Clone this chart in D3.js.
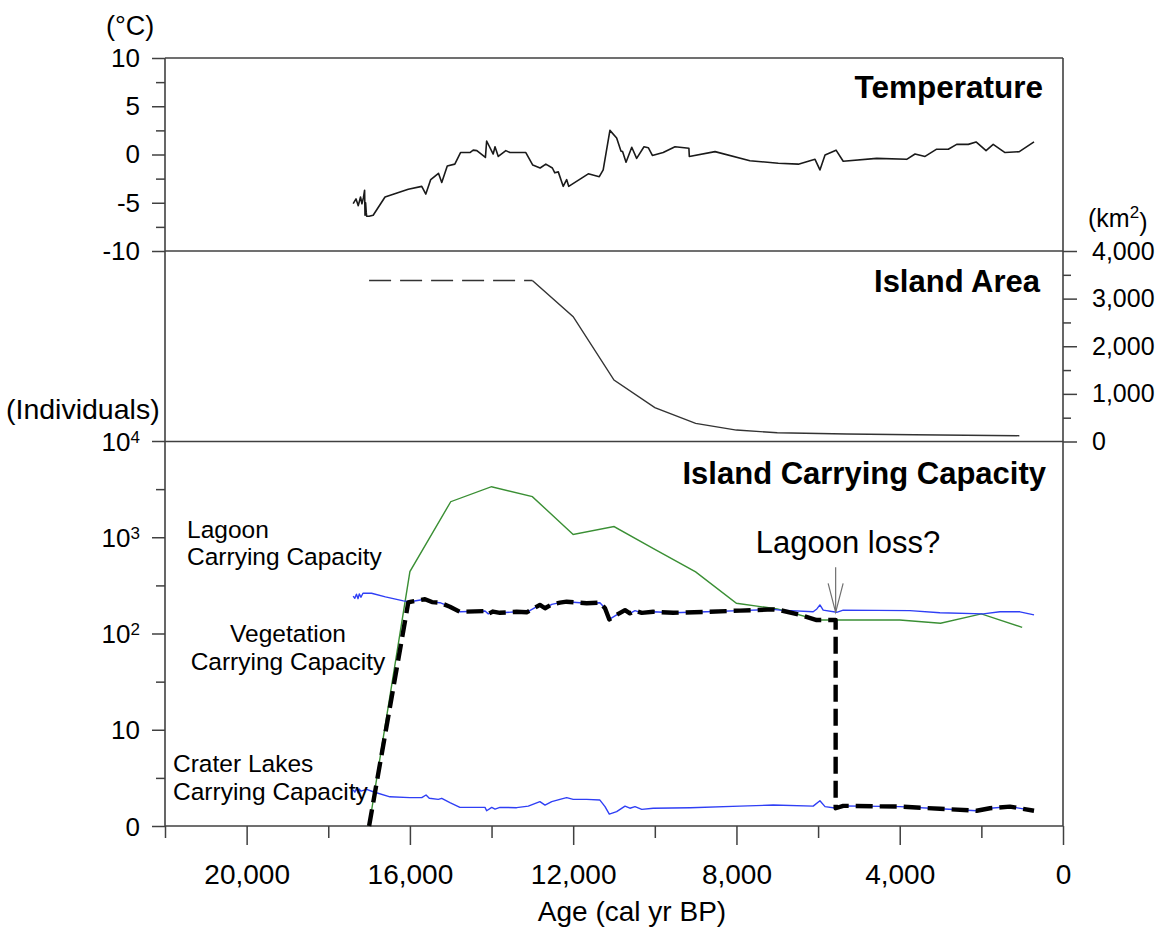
<!DOCTYPE html>
<meta charset="utf-8">
<body style="margin:0;background:white">
  <div id="content"></div>
</body>
<script src="https://cdn.jsdelivr.net/npm/d3@7"></script>
<script>
// axis ticks
var ageTicks = [20000, 16000, 12000, 8000, 4000, 0];
var ageMinorTicks = [22000, 18000, 14000, 10000, 6000, 2000];
var tempTicks = [-10, -5, 0, 5, 10];
var tempMinorTicks = [-7.5, -2.5, 2.5, 7.5];
var areaTicks = [0, 1000, 2000, 3000, 4000];
var areaMinorTicks = [500, 1500, 2500, 3500];
var capTicks = [1, 10, 100, 1000, 10000];
var capTickLabels = [["0", ""], ["10", ""], ["10", "2"], ["10", "3"], ["10", "4"]];
var capMinorTicks = [3.16, 31.6, 316, 3162];

// series: [age (cal yr BP), value]
var temperature = [[17390,-5.1],[17320,-4.6],[17265,-5.3],[17210,-4.4],[17175,-5.1],[17140,-4.5],[17110,-3.7],[17100,-6.3],[17085,-5.0],[17070,-6.0],[17060,-6.4],[17000,-6.4],[16900,-6.3],[16610,-4.4],[16040,-3.6],[15710,-3.3],[15610,-4.1],[15490,-2.6],[15300,-1.95],[15220,-2.9],[15085,-1.2],[14900,-1.0],[14760,0.2],[14530,0.2],[14450,0.45],[14360,0.4],[14150,-0.3],[14120,1.4],[13960,0.05],[13915,0.8],[13835,-0.2],[13650,0.4],[13550,0.2],[13160,0.2],[12990,-1.1],[12810,-1.4],[12670,-1.0],[12510,-1.4],[12450,-1.9],[12365,-1.8],[12245,-3.3],[12160,-2.6],[12110,-3.3],[11630,-2.0],[11360,-2.3],[11265,-1.6],[11100,2.5],[10935,1.7],[10830,0.35],[10790,0.3],[10705,-0.8],[10565,0.75],[10445,-0.4],[10265,0.8],[10160,0.7],[10060,-0.1],[9795,0.2],[9505,0.8],[9165,0.65],[9155,-0.2],[8525,0.3],[7670,-0.65],[6975,-0.9],[6485,-1.0],[6075,-0.5],[5955,-1.6],[5830,-0.05],[5560,0.45],[5385,-0.7],[4565,-0.4],[3830,-0.5],[3625,0.05],[3380,-0.2],[3095,0.55],[2810,0.55],[2605,1.05],[2320,1.05],[2130,1.3],[1885,0.4],[1710,1.05],[1420,0.2],[1070,0.3],[710,1.3]];

var areaAssumed = [[17000,3380],[13000,3380]];
var area = [[13000,3380],[12000,2620],[11000,1290],[10000,710],[9000,380],[8000,240],[7000,185],[5300,157],[3650,143],[1070,122]];

var vegetation = [[17000,1],[16000,440],[15000,2340],[14000,3350],[13000,2640],[12000,1070],[11000,1290],[10000,750],[9000,436],[8000,206],[7000,180],[6000,138],[5000,138],[4000,138],[3000,128],[2000,160],[1000,116]];

var lagoon = [[17390,245],[17350,232],[17310,256],[17270,230],[17240,258],[17200,238],[17150,262],[16940,262],[16600,240],[16160,218],[16000,214],[15630,227],[15460,212],[15265,209],[15020,190],[14775,168],[14160,171],[14080,160],[13965,169],[13795,164],[13385,168],[13140,166],[12815,198],[12690,183],[12525,201],[12325,209],[12160,214],[11670,206],[11345,209],[11220,183],[11115,140],[10935,156],[10730,175],[10610,162],[10485,173],[10320,164],[10040,168],[9550,164],[8730,168],[7915,173],[7100,178],[6935,175],[6120,168],[6030,180],[5955,198],[5875,175],[5545,166],[5385,175],[3750,173],[3015,164],[1955,160],[1545,168],[1055,168],[710,156]];

var craterLakes = [[17390,2.37],[17350,2.25],[17310,2.45],[17270,2.2],[17240,2.42],[17200,2.3],[17060,2.40],[16900,2.27],[16490,2.01],[16000,1.97],[15710,1.97],[15605,2.10],[15525,1.94],[15305,1.89],[15220,1.94],[15020,1.75],[14775,1.56],[14160,1.56],[14120,1.44],[13995,1.56],[13915,1.50],[13795,1.56],[13385,1.55],[13100,1.61],[12815,1.79],[12690,1.65],[12525,1.79],[12325,1.89],[12160,1.97],[12000,1.89],[11670,1.89],[11345,1.86],[11220,1.59],[11115,1.33],[10935,1.41],[10730,1.61],[10610,1.53],[10485,1.59],[10320,1.49],[10040,1.53],[9130,1.55],[7915,1.61],[7100,1.65],[6120,1.61],[5955,1.83],[5830,1.59],[5545,1.53],[5385,1.62],[3995,1.59],[3015,1.51],[2115,1.44],[1790,1.53],[1300,1.59],[710,1.44]];

var total = [[17000,1],[16040,210],[15960,214],[15630,227],[15460,212],[15265,209],[15020,190],[14775,168],[14160,171],[14080,160],[13965,169],[13795,164],[13385,168],[13140,166],[12815,198],[12690,183],[12525,201],[12325,209],[12160,214],[11670,206],[11345,209],[11220,183],[11115,140],[10935,156],[10730,175],[10610,162],[10485,173],[10320,164],[10040,168],[9550,164],[8730,168],[7915,173],[7100,178],[6935,175],[6445,156],[6035,138],[5570,138],[5570,1.53],[5385,1.62],[3995,1.59],[3015,1.51],[2115,1.44],[1790,1.53],[1300,1.59],[710,1.44]];

var lagoonLossAge = 5570;

// layout
var W = 1159, H = 931;
var left = 165, right = 1063;
var font = '"Liberation Sans", Arial, sans-serif';
var axisColor = '#404040';

var x = d3.scaleLinear().domain([22000, 0]).range([left, right]);
var yTemp = d3.scaleLinear().domain([-10, 10]).range([251, 58]);
var yArea = d3.scaleLinear().domain([0, 4000]).range([441.5, 251]);
var yCap = d3.scaleLog().domain([1, 10000]).range([826, 441]);

var svg = d3.select('#content').append('svg')
    .attr('width', W).attr('height', H)
    .style('background', 'white')
    .style('font-family', font);

function styleAxis(g) {
    g.select('.domain').remove();
    g.selectAll('.tick line').attr('stroke', axisColor).attr('stroke-width', 1.5);
    g.selectAll('.tick text').attr('fill', 'black').attr('font-family', font);
}

// frame
var frame = svg.append('g').attr('stroke', axisColor).attr('stroke-width', 1.6);
frame.append('line').attr('x1', left).attr('x2', right).attr('y1', yTemp(10)).attr('y2', yTemp(10));
frame.append('line').attr('x1', left).attr('x2', right).attr('y1', yTemp(-10)).attr('y2', yTemp(-10));
frame.append('line').attr('x1', left).attr('x2', right).attr('y1', yArea(0)).attr('y2', yArea(0));
frame.append('line').attr('x1', left).attr('x2', right).attr('y1', yCap(1)).attr('y2', yCap(1));
frame.append('line').attr('x1', left).attr('x2', left).attr('y1', yTemp(10)).attr('y2', yCap(1));
frame.append('line').attr('x1', right).attr('x2', right).attr('y1', yTemp(10)).attr('y2', yCap(1));

// temperature axis
svg.append('g').attr('transform', 'translate(' + left + ',0)')
    .call(d3.axisLeft(yTemp).tickValues(tempTicks).tickSize(13).tickPadding(12)
        .tickFormat(function (d) { return String(d); }))
    .call(styleAxis)
    .selectAll('.tick text').attr('font-size', 26);
svg.append('g').attr('transform', 'translate(' + left + ',0)')
    .call(d3.axisLeft(yTemp).tickValues(tempMinorTicks).tickSize(9).tickFormat(''))
    .call(styleAxis);

// island area axis (right)
svg.append('g').attr('transform', 'translate(' + right + ',0)')
    .call(d3.axisRight(yArea).tickValues(areaTicks).tickSize(14).tickPadding(15).tickFormat(d3.format(',')))
    .call(styleAxis)
    .selectAll('.tick text').attr('font-size', 25);
svg.append('g').attr('transform', 'translate(' + right + ',0)')
    .call(d3.axisRight(yArea).tickValues(areaMinorTicks).tickSize(8).tickFormat(''))
    .call(styleAxis);

// carrying capacity axis (log)
var capAxis = svg.append('g').attr('transform', 'translate(' + left + ',0)')
    .call(d3.axisLeft(yCap).tickValues(capTicks).tickSize(13).tickFormat(''))
    .call(styleAxis);
capAxis.selectAll('.tick').each(function (d, i) {
    var lab = capTickLabels[i];
    var t = d3.select(this).append('text')
        .attr('x', -25).attr('dy', '0.35em')
        .attr('text-anchor', 'end').attr('fill', 'black')
        .attr('font-family', font).attr('font-size', 26);
    t.append('tspan').text(lab[0]);
    if (lab[1]) {
        t.append('tspan').attr('dy', '-0.45em').attr('font-size', 17).text(lab[1]);
    }
});
svg.append('g').attr('transform', 'translate(' + left + ',0)')
    .call(d3.axisLeft(yCap).tickValues(capMinorTicks).tickSize(9).tickFormat(''))
    .call(styleAxis);

// age axis
svg.append('g').attr('transform', 'translate(0,' + yCap(1) + ')')
    .call(d3.axisBottom(x).tickValues(ageTicks).tickSize(19).tickPadding(19).tickFormat(d3.format(',')))
    .call(styleAxis)
    .selectAll('.tick text').attr('font-size', 28);
svg.append('g').attr('transform', 'translate(0,' + yCap(1) + ')')
    .call(d3.axisBottom(x).tickValues(ageMinorTicks).tickSize(12).tickFormat(''))
    .call(styleAxis);

// series
var lineTemp = d3.line().x(function (d) { return x(d[0]); }).y(function (d) { return yTemp(d[1]); });
var lineArea = d3.line().x(function (d) { return x(d[0]); }).y(function (d) { return yArea(d[1]); });
var lineCap = d3.line().x(function (d) { return x(d[0]); }).y(function (d) { return yCap(d[1]); });

svg.append('path').datum(temperature).attr('d', lineTemp)
    .attr('fill', 'none').attr('stroke', '#1a1a1a').attr('stroke-width', 1.6).attr('stroke-linejoin', 'round');

svg.append('path').datum(areaAssumed).attr('d', lineArea)
    .attr('fill', 'none').attr('stroke', '#333').attr('stroke-width', 1.5).attr('stroke-dasharray', '22,9');
svg.append('path').datum(area).attr('d', lineArea)
    .attr('fill', 'none').attr('stroke', '#333').attr('stroke-width', 1.4);

svg.append('path').datum(vegetation).attr('d', lineCap)
    .attr('fill', 'none').attr('stroke', '#3a8f34').attr('stroke-width', 1.4);
svg.append('path').datum(lagoon).attr('d', lineCap)
    .attr('fill', 'none').attr('stroke', '#2f3ff5').attr('stroke-width', 1.4).attr('stroke-linejoin', 'round');
svg.append('path').datum(craterLakes).attr('d', lineCap)
    .attr('fill', 'none').attr('stroke', '#2f3ff5').attr('stroke-width', 1.4).attr('stroke-linejoin', 'round');
svg.append('path').datum(total).attr('d', lineCap)
    .attr('fill', 'none').attr('stroke', 'black').attr('stroke-width', 4.4)
    .attr('stroke-dasharray', '17,7').attr('stroke-linejoin', 'round');

// lagoon loss arrow
var ax = x(lagoonLossAge), ay = yCap(166);
var arrow = svg.append('g').attr('stroke', '#707070').attr('stroke-width', 1.2).attr('fill', 'none');
arrow.append('line').attr('x1', ax).attr('x2', ax).attr('y1', ay - 45).attr('y2', ay);
arrow.append('path').attr('d', 'M' + (ax - 7.5) + ',' + (ay - 29) + 'L' + ax + ',' + ay + 'L' + (ax + 7.5) + ',' + (ay - 29));

// texts
function txt(s, px, py, size, anchor, weight) {
    return svg.append('text').attr('x', px).attr('y', py)
        .attr('font-size', size).attr('text-anchor', anchor || 'start')
        .attr('font-weight', weight || 'normal').attr('fill', 'black').text(s);
}
txt('Temperature', 1043, 98, 31.5, 'end', 'bold');
txt('Island Area', 1040, 292, 31, 'end', 'bold');
txt('Island Carrying Capacity', 1046, 484, 31, 'end', 'bold');

txt('(°C)', 106, 35, 27);
var km = txt('(km', 1088, 227, 25);
km.append('tspan').attr('dy', '-0.55em').attr('font-size', 17).text('2');
km.append('tspan').attr('dy', '0.55em').text(')');
txt('(Individuals)', 6, 419, 28.5);

txt('Lagoon', 187, 538, 24.5);
txt('Carrying Capacity', 187, 565, 24.5);
txt('Vegetation', 288, 642, 24.5, 'middle');
txt('Carrying Capacity', 288, 670, 24.5, 'middle');
txt('Crater Lakes', 173, 772, 24.5);
txt('Carrying Capacity', 173, 800, 24.5);
txt('Lagoon loss?', 848, 553, 31, 'middle');

txt('Age (cal yr BP)', 632, 921, 28, 'middle');
</script>
